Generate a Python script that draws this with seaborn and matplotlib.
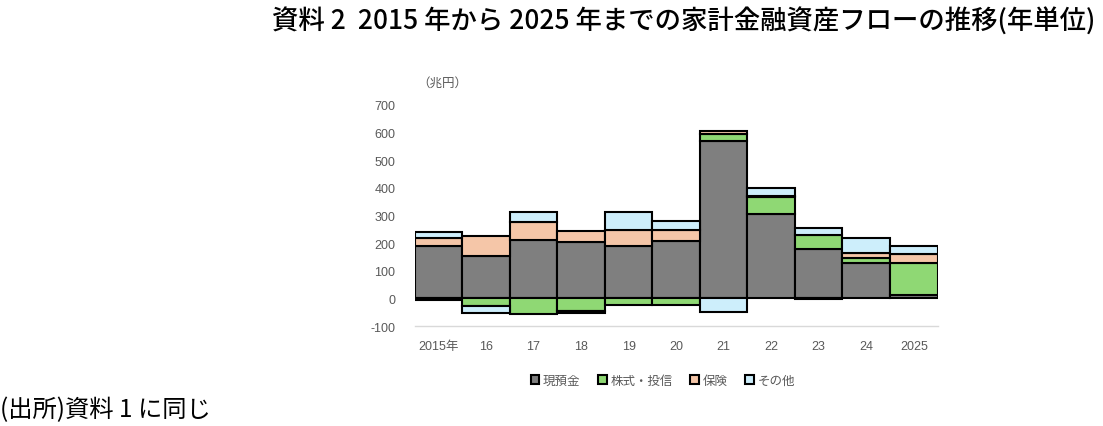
import numpy as np
import pandas as pd
import matplotlib
matplotlib.use("Agg")
import matplotlib.pyplot as plt
from matplotlib.patches import Patch
import seaborn as sns

years = ["2015年", "16", "17", "18", "19", "20", "21", "22", "23", "24", "2025"]
cash = [189, 153, 212, 204, 189, 208, 571, 305, 177, 128, 12]
stocks = [-7, -28, -57, -45, -25, -22, 22, 62, 51, 20, 115]
insurance = [31, 72, 64, 41, 57, 40, 14, 3, -3, 15, 32]
other = [19, -24, 37, -6, 67, 33, -48, 31, 27, 56, 30]
series_names = ["現預金", "株式・投信", "保険", "その他"]
colors = ["#7f7f7f", "#8fd874", "#f5c6a8", "#cdeefb"]
yticks = [-100, 0, 100, 200, 300, 400, 500, 600, 700]

sns.set_theme(style="white")
plt.rcParams["font.family"] = ["Liberation Sans", "Noto Sans CJK JP", "DejaVu Sans"]

fig = plt.figure(figsize=(11.03, 4.27), dpi=100)
ax = fig.add_axes([0.376, 0.234, 0.474, 0.518])

df = pd.DataFrame({"year": years, "現預金": cash, "株式・投信": stocks,
                   "保険": insurance, "その他": other})
pos_base = np.zeros(len(years))
neg_base = np.zeros(len(years))
xs = np.arange(len(years))
for name, col in zip(series_names, colors):
    vals = df[name].to_numpy(dtype=float)
    bottoms = np.where(vals >= 0, pos_base, neg_base)
    ax.bar(xs, vals, width=1.0, bottom=bottoms, color=col,
           edgecolor="black", linewidth=1.5, zorder=3)
    pos_base = pos_base + np.where(vals >= 0, vals, 0)
    neg_base = neg_base + np.where(vals < 0, vals, 0)

ax.set_xlim(-0.5, len(years) - 0.5)
ax.set_ylim(-100, 700)
ax.set_yticks(yticks)
ax.set_yticklabels([str(t) for t in yticks])
ax.set_xticks(xs)
ax.set_xticklabels(years)
ax.tick_params(axis="both", length=0, labelsize=9, colors="#595959")
ax.tick_params(axis="y", pad=14)
ax.tick_params(axis="x", pad=10)
for s in ["top", "right", "left"]:
    ax.spines[s].set_visible(False)
ax.spines["bottom"].set_color("#d9d9d9")
ax.spines["bottom"].set_linewidth(1.0)
ax.grid(False)

fig.text(417 / 1103, 1 - 83 / 427, "（兆円）", fontsize=9, color="#595959",
         ha="left", va="center", family=["Noto Sans CJK JP"])

fig.text(0.993, 1 - 22 / 427,
         "資料 2  2015 年から 2025 年までの家計金融資産フローの推移(年単位)",
         fontsize=19, color="black", ha="right", va="center",
         family=["Noto Sans CJK JP"], fontweight="medium")
fig.text(0.0, 1 - 410 / 427, "(出所)資料 1 に同じ", fontsize=17.5, color="black",
         ha="left", va="center", family=["Noto Sans CJK JP"])

handles = [Patch(facecolor=c, edgecolor="black", linewidth=1.5, label=n)
           for n, c in zip(series_names, colors)]
leg = fig.legend(handles=handles, loc="center", bbox_to_anchor=(663 / 1103, 1 - 381 / 427),
                 ncol=4, frameon=False, handlelength=0.7, handleheight=0.7,
                 handletextpad=0.3, columnspacing=1.4,
                 prop={"family": ["Noto Sans CJK JP"], "size": 9})
for t in leg.get_texts():
    t.set_color("#595959")

fig.savefig("out.png", dpi=100)
